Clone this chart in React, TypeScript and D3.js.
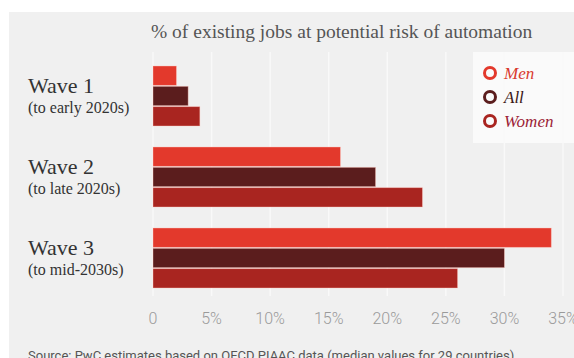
import React from "react";
import * as d3 from "d3";

const waves = ["Wave 1", "Wave 2", "Wave 3"];
const waveSubs = ["(to early 2020s)", "(to late 2020s)", "(to mid-2030s)"];
const seriesNames = ["Men", "All", "Women"];
const menValues = [2, 16, 34];
const allValues = [3, 19, 30];
const womenValues = [4, 23, 26];
const tickValues = [0, 5, 10, 15, 20, 25, 30, 35];
const tickLabels = ["0", "5%", "10%", "15%", "20%", "25%", "30%", "35%"];

const colors: Record<string, string> = { Men: "#e3392c", All: "#5b1d1d", Women: "#a92520" };
const legendTextColors: Record<string, string> = { Men: "#d9392e", All: "#3a1717", Women: "#9c2236" };

const W = 574;
const H = 358;

export default function App() {
  const x = d3.scaleLinear().domain([0, 35]).range([153, 563]);
  const y = d3.scaleBand<string>().domain(waves).range([66, 288]).paddingInner(21 / 81).paddingOuter(0);
  const ys = d3.scaleBand<string>().domain(seriesNames).range([0, y.bandwidth()]).paddingInner(0.05);
  const valuesBySeries: Record<string, number[]> = { Men: menValues, All: allValues, Women: womenValues };

  const serif = "'Liberation Serif', 'DejaVu Serif', serif";
  const sans = "Roboto, 'Liberation Sans', sans-serif";

  return (
    <svg width={W} height={H} style={{ position: "fixed", left: 0, top: 0, background: "#fff" }}>
      <rect x={9} y={12} width={W - 9} height={H - 12} fill="#f0f0f0" />
      {/* legend box */}
      <rect x={473} y={52} width={W - 473} height={91} fill="#fafafa" />
      {/* gridlines */}
      {tickValues.map((t) => (
        <line key={"g" + t} x1={x(t)} x2={x(t)} y1={52} y2={296} stroke="#f9f9f9" strokeWidth={1.5} />
      ))}
      {/* title */}
      <text x={151} y={38} fontFamily={serif} fontSize={19.5} fill="#555">
        % of existing jobs at potential risk of automation
      </text>
      {/* bars */}
      {waves.map((w, i) => (
        <g key={w}>
          {seriesNames.map((s) => (
            <rect
              key={s}
              x={x(0)}
              y={(y(w) as number) + (ys(s) as number)}
              width={x(valuesBySeries[s][i]) - x(0)}
              height={ys.bandwidth()}
              fill={colors[s]}
              stroke="rgba(255,200,190,0.5)"
              strokeWidth={0.8}
            />
          ))}
          <text x={28} y={(y(w) as number) + 27} fontFamily={serif} fontSize={22} fill="#333">
            {w}
          </text>
          <text x={28} y={(y(w) as number) + 47} fontFamily={serif} fontSize={16} fill="#333">
            {waveSubs[i]}
          </text>
        </g>
      ))}
      {/* x ticks */}
      {tickValues.map((t, i) => (
        <text
          key={"t" + t}
          x={x(t)}
          y={324}
          textAnchor="middle"
          fontFamily={sans}
          fontWeight={300}
          fontSize={16}
          fill="#9a9a9a"
        >
          {tickLabels[i]}
        </text>
      ))}
      {/* legend */}
      {seriesNames.map((s, i) => (
        <g key={"l" + s} transform={`translate(490, ${73 + i * 24})`}>
          <circle r={5.5} fill="none" stroke={colors[s]} strokeWidth={3} />
          <text x={14} y={6} fontFamily={serif} fontStyle="italic" fontSize={17} fill={legendTextColors[s]}>
            {s}
          </text>
        </g>
      ))}
      {/* source */}
      <text x={28} y={360} fontFamily={sans} fontSize={13} fill="#555">
        Source: PwC estimates based on OECD PIAAC data (median values for 29 countries)
      </text>
    </svg>
  );
}
